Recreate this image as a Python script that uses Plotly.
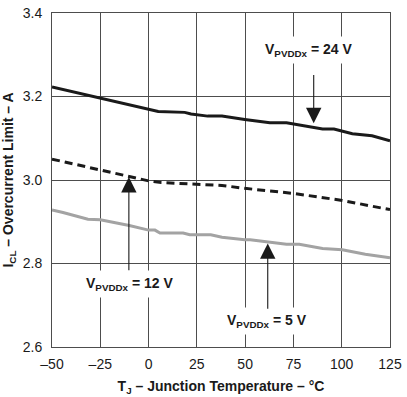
import plotly.graph_objects as go

# Data
t_24 = [-50, -43.4, -25, 0, 5, 18.7, 22, 30.6, 38, 49.8, 62.8, 71.4, 90.1, 96, 105.5, 115.7, 125]
i_24 = [3.223, 3.216, 3.196, 3.171, 3.164, 3.162, 3.158, 3.153, 3.153, 3.145, 3.137, 3.137, 3.122, 3.122, 3.111, 3.106, 3.094]

t_12 = [-50, -25, -10.2, 0, 6.6, 38, 49.8, 74.8, 100.3, 125]
i_12 = [3.050, 3.024, 3.007, 2.998, 2.994, 2.987, 2.980, 2.968, 2.951, 2.929]

t_5 = [-50, -44.3, -31.4, -25, -10, 0, 3.3, 5.9, 17.9, 21.3, 32.2, 38, 49.8, 52.6, 71.4, 78, 90.1, 100.3, 112.2, 125]
i_5 = [2.928, 2.922, 2.906, 2.905, 2.891, 2.880, 2.880, 2.873, 2.873, 2.869, 2.869, 2.863, 2.857, 2.857, 2.846, 2.846, 2.836, 2.833, 2.822, 2.814]

x_ticks = [-50, -25, 0, 25, 50, 75, 100, 125]
x_ticktext = ["–50", "–25", "0", "25", "50", "75", "100", "125"]
y_ticks = [2.6, 2.8, 3.0, 3.2, 3.4]
y_ticktext = ["2.6", "2.8", "3.0", "3.2", "3.4"]

FONT = "Liberation Sans, Arial, sans-serif"
INK = "#1a1a1a"

fig = go.Figure()
fig.add_trace(go.Scatter(x=t_24, y=i_24, mode="lines",
                         line=dict(color=INK, width=3), showlegend=False))
fig.add_trace(go.Scatter(x=t_12, y=i_12, mode="lines",
                         line=dict(color=INK, width=3, dash="8px,5px"), showlegend=False))
fig.add_trace(go.Scatter(x=t_5, y=i_5, mode="lines",
                         line=dict(color="#a3a3a3", width=3), showlegend=False))

label_font = dict(family=FONT, size=14, color=INK)

def label(x, y, volts):
    fig.add_annotation(x=x, y=y, xref="x", yref="y", showarrow=False,
                       text=f"<b>V<sub>PVDDx</sub> = {volts} V</b>",
                       font=label_font, bgcolor="white", borderpad=4)

def arrow(x, y, ay):
    fig.add_annotation(x=x, y=y, ax=x, ay=ay, xref="x", yref="y",
                       axref="x", ayref="y", text="", showarrow=True,
                       arrowhead=2, arrowsize=2.8, arrowwidth=1.1,
                       arrowcolor=INK)

label(82.7, 3.311, 24)
arrow(85.5, 3.136, 3.255)
label(-10, 2.751, 12)
arrow(-10.2, 3.007, 2.78)
label(61.5, 2.663, 5)
arrow(61.7, 2.848, 2.688)

axis_common = dict(showgrid=True, gridcolor="#4d4d4d", gridwidth=1,
                   showline=True, linecolor="#4d4d4d", linewidth=1, mirror=True,
                   zeroline=False, ticks="", ticklabeloverflow="allow",
                   tickfont=dict(family=FONT, size=14, color=INK))

fig.update_xaxes(range=[-50, 125], tickvals=x_ticks, ticktext=x_ticktext,
                 ticklabelstandoff=4,
                 title=dict(text="<b>T<sub>J</sub> – Junction Temperature – °C</b>",
                            font=dict(family=FONT, size=14, color=INK), standoff=10),
                 **axis_common)
fig.update_yaxes(range=[2.6, 3.4], tickvals=y_ticks, ticktext=y_ticktext,
                 ticklabelstandoff=6,
                 title=dict(text="<b>I<sub>CL</sub> – Overcurrent Limit – A</b>",
                            font=dict(family=FONT, size=14, color=INK), standoff=6),
                 **axis_common)

fig.update_layout(width=407, height=397, margin=dict(l=52, r=12, t=5, b=49),
                  plot_bgcolor="white", paper_bgcolor="white",
                  font=dict(family=FONT))
# bold tick labels
fig.update_xaxes(tickprefix="<b>", ticksuffix="</b>")
fig.update_yaxes(tickprefix="<b>", ticksuffix="</b>")

fig.write_html("out.html", config={"displayModeBar": False},
               post_script="document.body.style.margin='0';document.body.style.overflow='hidden';")
